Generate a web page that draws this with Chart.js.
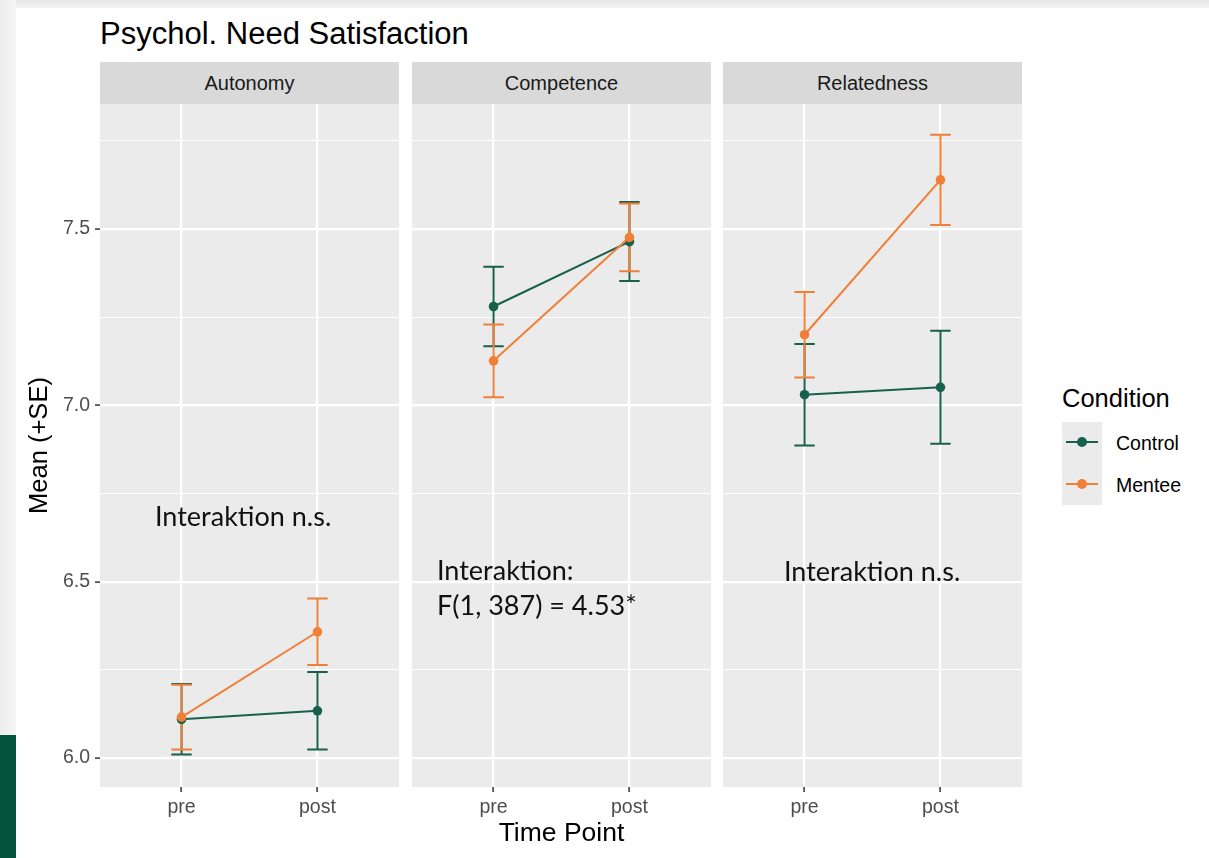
<!DOCTYPE html>
<html><head><meta charset="utf-8">
<script src="https://cdn.jsdelivr.net/npm/chart.js@4.4.1/dist/chart.umd.min.js"></script>
<style>
html,body{margin:0;padding:0;width:1209px;height:858px;overflow:hidden;background:#fff;font-family:"Liberation Sans",Arial,sans-serif;}
.abs{position:absolute;white-space:nowrap;}
#topband{left:0;top:0;width:1209px;height:8px;background:linear-gradient(#e6e6e6,#f3f3f3);}
#leftband{left:0;top:0;width:16px;height:858px;background:linear-gradient(90deg,#ececec,#f5f5f5);}
#greenbar{left:0;top:735px;width:16px;height:123px;background:#02553b;}
.strip{position:absolute;top:62px;height:42px;background:#D9D9D9;color:#1A1A1A;font-size:20px;line-height:42px;text-align:center;}
canvas{position:absolute;}
.note{position:absolute;font-family:Lato,"Open Sans",sans-serif;font-size:27px;line-height:27px;color:#111;white-space:nowrap;}
</style></head>
<body>
<div id="topband" class="abs"></div>
<div id="leftband" class="abs"></div>
<div id="greenbar" class="abs"></div>
<div class="abs" id="title" style="left:100px;top:18px;font-size:31px;line-height:31px;color:#000;"></div>
<div id="strips"></div>
<canvas id="c0" width="383" height="754" style="left:16px;top:104px;"></canvas>
<canvas id="c1" width="299" height="754" style="left:412px;top:104px;"></canvas>
<canvas id="c2" width="299" height="754" style="left:723px;top:104px;"></canvas>
<div id="notes"></div>
<div id="legend"></div>
<script>
// ---- data ----
const chartTitle = 'Psychol. Need Satisfaction';
const categories = ['pre', 'post'];
const facets = ['Autonomy', 'Competence', 'Relatedness'];
const seriesNames = ['Control', 'Mentee'];
const seriesColors = ['#17604A', '#F07F38'];

const autonomyControl = [6.110, 6.134];
const autonomyControlSE = [0.100, 0.110];
const autonomyMentee = [6.116, 6.358];
const autonomyMenteeSE = [0.092, 0.094];

const competenceControl = [7.280, 7.464];
const competenceControlSE = [0.113, 0.112];
const competenceMentee = [7.126, 7.476];
const competenceMenteeSE = [0.103, 0.096];

const relatednessControl = [7.030, 7.051];
const relatednessControlSE = [0.144, 0.160];
const relatednessMentee = [7.200, 7.639];
const relatednessMenteeSE = [0.121, 0.128];

const yTicks = [6.0, 6.25, 6.5, 6.75, 7.0, 7.25, 7.5, 7.75];
const yMajorTicks = [6.0, 6.5, 7.0, 7.5];
const yLabel = 'Mean (+SE)';
const xLabel = 'Time Point';
const legendTitle = 'Condition';

// ---- layout ----
const FONT = '"Liberation Sans", Arial, sans-serif';
const panelLeft = [100, 412, 723];
const panelWidth = 299;
const capHalf = 0.075;

document.getElementById('title').textContent = chartTitle;
const stripsEl = document.getElementById('strips');
facets.forEach((f, i) => {
  const d = document.createElement('div');
  d.className = 'strip';
  d.style.left = panelLeft[i] + 'px';
  d.style.width = panelWidth + 'px';
  d.textContent = f;
  stripsEl.appendChild(d);
});

const notes = [
  { text: 'Interaktion n.s.', left: 155, top: 502 },
  { text: 'Interaktion:', left: 437, top: 556 },
  { text: 'F(1, 387) = 4.53*', left: 437, top: 591 },
  { text: 'Interaktion n.s.', left: 784, top: 557 }
];
const notesEl = document.getElementById('notes');
notes.forEach(n => {
  const d = document.createElement('div');
  d.className = 'note';
  d.style.left = n.left + 'px';
  d.style.top = n.top + 'px';
  d.textContent = n.text;
  notesEl.appendChild(d);
});

// legend
const legendEl = document.getElementById('legend');
legendEl.innerHTML =
  '<div class="abs" style="left:1062px;top:386px;font-size:25.5px;line-height:25.5px;color:#000;">' + legendTitle + '</div>' +
  '<div class="abs" style="left:1062px;top:422px;width:40px;height:83px;background:#EBEBEB;"></div>';
seriesNames.forEach((name, i) => {
  const cy = 442 + i * 42;
  legendEl.innerHTML +=
    '<div class="abs" style="left:1066px;top:' + (cy - 1) + 'px;width:32px;height:2px;background:' + seriesColors[i] + ';"></div>' +
    '<div class="abs" style="left:' + (1082 - 5) + 'px;top:' + (cy - 5) + 'px;width:10px;height:10px;border-radius:50%;background:' + seriesColors[i] + ';"></div>' +
    '<div class="abs" style="left:1116px;top:' + (cy - 8) + 'px;font-size:19.5px;line-height:19.5px;color:#000;">' + name + '</div>';
});

// ---- plugins ----
const panelBg = {
  id: 'panelBg',
  beforeDraw(chart) {
    const { ctx, chartArea: a } = chart;
    ctx.save();
    ctx.fillStyle = '#EBEBEB';
    ctx.fillRect(a.left, a.top, a.right - a.left, a.bottom - a.top);
    ctx.restore();
  }
};
const errorBars = {
  id: 'errorBars',
  beforeDatasetsDraw(chart) {
    const { ctx, scales: { x, y } } = chart;
    ctx.save();
    ctx.lineWidth = 2;
    chart.data.datasets.forEach(ds => {
      ctx.strokeStyle = ds.borderColor;
      ds.data.forEach((p, i) => {
        const se = ds.se[i];
        const px = x.getPixelForValue(p.x);
        const xl = x.getPixelForValue(p.x - capHalf);
        const xr = x.getPixelForValue(p.x + capHalf);
        const yt = y.getPixelForValue(p.y + se);
        const yb = y.getPixelForValue(p.y - se);
        ctx.beginPath();
        ctx.moveTo(px, yt); ctx.lineTo(px, yb);
        ctx.moveTo(xl, yt); ctx.lineTo(xr, yt);
        ctx.moveTo(xl, yb); ctx.lineTo(xr, yb);
        ctx.stroke();
      });
    });
    ctx.restore();
  }
};

function zeroPad(s) {
  s.paddingTop = 0; s.paddingBottom = 0; s.paddingLeft = 0; s.paddingRight = 0;
}

function makePanel(idx, means, ses) {
  const isFirst = idx === 0;
  const isMiddle = idx === 1;
  const datasets = seriesNames.map((name, s) => ({
    label: name,
    data: categories.map((c, i) => ({ x: i + 1, y: means[s][i] })),
    se: ses[s],
    borderColor: seriesColors[s],
    backgroundColor: seriesColors[s],
    borderWidth: 2,
    pointRadius: 4.8,
    pointHoverRadius: 4.8,
    pointBorderWidth: 0,
    showLine: true,
    tension: 0,
    order: s === 0 ? 2 : 1
  }));
  new Chart(document.getElementById('c' + idx), {
    type: 'scatter',
    data: { datasets },
    options: {
      responsive: false,
      animation: false,
      events: [],
      layout: { padding: 0, autoPadding: false },
      plugins: { legend: { display: false }, tooltip: { enabled: false }, title: { display: false } },
      scales: {
        x: {
          type: 'linear', min: 0.4, max: 2.6,
          afterBuildTicks: s => { s.ticks = categories.map((c, i) => ({ value: i + 1 })); },
          ticks: {
            callback: v => categories[Math.round(v) - 1],
            color: '#4D4D4D', font: { family: FONT, size: 19.5 }, padding: 4,
            maxRotation: 0, autoSkip: false
          },
          grid: { color: '#FFFFFF', lineWidth: 2.2, drawTicks: true, tickLength: 5, tickColor: '#333333', tickWidth: 1.5 },
          border: { display: false },
          title: {
            display: isMiddle, text: xLabel, color: '#000',
            font: { family: FONT, size: 26.5 }, padding: { top: 0, bottom: 8 }
          },
          afterFit: s => { s.height = 71; zeroPad(s); }
        },
        y: {
          type: 'linear', min: 5.918, max: 7.854,
          afterBuildTicks: s => { s.ticks = yTicks.map(v => ({ value: v })); },
          ticks: {
            display: isFirst,
            callback: v => yMajorTicks.includes(v) ? v.toFixed(1) : '',
            color: '#4D4D4D', font: { family: FONT, size: 19.5 }, padding: 5
          },
          grid: {
            color: '#FFFFFF',
            lineWidth: c => (c.tick && yMajorTicks.includes(c.tick.value)) ? 2.2 : 1.1,
            drawTicks: isFirst, tickLength: 5, tickWidth: 1.5,
            tickColor: c => (c.tick && yMajorTicks.includes(c.tick.value)) ? '#333333' : 'rgba(0,0,0,0)'
          },
          border: { display: false },
          title: {
            display: isFirst, text: yLabel, color: '#000',
            font: { family: FONT, size: 25.5 }, padding: { top: 9, bottom: 0 }
          },
          afterFit: s => { s.width = isFirst ? 84 : 0; zeroPad(s); }
        }
      }
    },
    plugins: [panelBg, errorBars]
  });
}

makePanel(0, [autonomyControl, autonomyMentee], [autonomyControlSE, autonomyMenteeSE]);
makePanel(1, [competenceControl, competenceMentee], [competenceControlSE, competenceMenteeSE]);
makePanel(2, [relatednessControl, relatednessMentee], [relatednessControlSE, relatednessMenteeSE]);
</script>
</body></html>
